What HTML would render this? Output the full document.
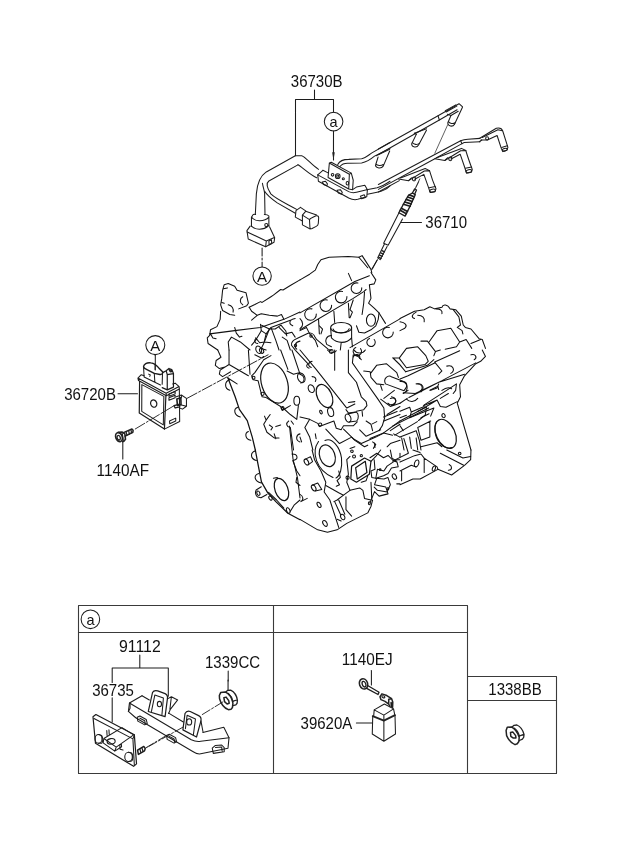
<!DOCTYPE html>
<html>
<head>
<meta charset="utf-8">
<title>Glow plug system</title>
<style>
html,body{margin:0;padding:0;background:#fff;}
body{width:620px;height:848px;overflow:hidden;font-family:"Liberation Sans",sans-serif;}
svg{display:block;position:absolute;left:0;top:0;filter:grayscale(1);}
svg text{font-family:"Liberation Sans",sans-serif;font-size:16.1px;fill:#111;}
.l,.l *{vector-effect:non-scaling-stroke;}
.t,.t *{vector-effect:non-scaling-stroke;}
.f,.f *{vector-effect:non-scaling-stroke;}
.l{fill:none;stroke:#1c1c1c;stroke-width:1.05;stroke-linecap:round;stroke-linejoin:round;}
.t{fill:none;stroke:#111;stroke-width:1.05;stroke-linecap:round;stroke-linejoin:round;}
.f{fill:#fff;stroke:#333;stroke-width:1;stroke-linejoin:round;}
.d{fill:none;stroke:#333;stroke-width:0.9;stroke-dasharray:7 2 2 2;}
.k{fill:#222;stroke:none;}
</style>
</head>
<body>
<svg width="620" height="848" viewBox="0 0 620 848">

<!-- ===== TABLE ===== -->
<g id="table" class="l" style="stroke:#3a3a3a;stroke-width:1.1">
<path d="M78.5 605.5H467.5V773.5H78.5Z"/>
<path d="M78.5 632.5H467.5"/>
<path d="M273.5 605.5V773.5"/>
<path d="M467.5 676.5H556.5V773.5H467.5"/>
<path d="M467.5 700.5H556.5"/>
</g>

<!-- ===== LABELS ===== -->
<g id="labels">
<text x="290.8" y="86.5" textLength="51.7" lengthAdjust="spacingAndGlyphs">36730B</text>
<text x="425.3" y="228.3" textLength="41.7" lengthAdjust="spacingAndGlyphs">36710</text>
<text x="64.2" y="400" textLength="51.7" lengthAdjust="spacingAndGlyphs">36720B</text>
<text x="96.6" y="475.5" textLength="52.5" lengthAdjust="spacingAndGlyphs">1140AF</text>
<text x="119" y="652" textLength="41.7" lengthAdjust="spacingAndGlyphs">91112</text>
<text x="92.2" y="695.8" textLength="41.7" lengthAdjust="spacingAndGlyphs">36735</text>
<text x="205" y="667.8" textLength="55.1" lengthAdjust="spacingAndGlyphs">1339CC</text>
<text x="341.8" y="664.5" textLength="50.8" lengthAdjust="spacingAndGlyphs">1140EJ</text>
<text x="300.6" y="729.3" textLength="51.7" lengthAdjust="spacingAndGlyphs">39620A</text>
<text x="488.3" y="694.6" textLength="53.4" lengthAdjust="spacingAndGlyphs">1338BB</text>
</g>

<!-- ===== LEADERS ===== -->
<g id="leaders" class="l">
<path d="M314.5 90V99.5M295.5 155.5V99.5H333.5V112"/>
<circle cx="333.6" cy="121.6" r="9.3"/>
<path d="M333.5 131V160"/>
<path d="M401 222.4H421.5"/>
<path d="M118 393.8H137.5"/>
<path d="M122.8 442V459"/>
<circle cx="155.3" cy="345.1" r="9.5"/>
<path d="M155.3 355.3V370"/>
<path d="M139.8 655V668M112.2 682.5V668H168.3V696.3M112.2 697.8V722"/>
<path d="M228.2 671V681"/>
<path d="M371.4 670.5V685"/>
<path d="M356.4 723H372"/>
<circle cx="90.4" cy="619.3" r="9.3"/>
<circle cx="262.1" cy="276.1" r="9.2"/>
<path d="M262.1 248V266.8" style="stroke-dasharray:8 2 2 2"/>
</g>
<text x="329.6" y="126.5" style="font-size:14.5px">a</text>
<text x="86.5" y="625" style="font-size:14.5px">a</text>
<text x="150.2" y="350.9" style="font-size:15px">A</text>
<text x="257.1" y="281.5" style="font-size:15px">A</text>

<!-- harness left: zoom [245,150,325,250] k=7.75 -->
<g class="l" transform="translate(245 150) scale(0.129032)">
<path d="M390 45L165 170C120 200 95 250 88 340L80 500"/>
<path d="M135 258C140 290 150 310 152 335L155 500"/>
<path d="M410 115L185 240C165 255 165 285 200 340C240 380 330 420 400 460"/>
<path d="M152 320C170 350 200 375 250 410L390 490"/>
<path d="M390 45L440 45C470 55 520 120 570 150"/>
<path d="M410 115C440 130 500 190 555 215"/>
<!-- small connector -->
<path d="M430 445L395 470L390 520L445 550M430 445L470 472"/>
<path d="M470 475L445 505L445 580L505 612M470 475L555 503"/>
<path d="M500 545C500 535 505 530 515 527L550 510C562 507 570 512 571 525L568 570C567 580 562 587 552 592L520 608C510 612 503 608 503 598Z"/>
<path d="M445 505L500 540"/>
<!-- main connector -->
<path d="M50 520C70 555 150 560 185 520M50 520L50 590M185 512L185 585M55 515C58 500 70 495 82 500M150 500C165 500 180 505 185 512"/>
<path d="M50 590C80 620 140 625 185 585"/>
<circle cx="165" cy="582" r="12"/>
<path d="M40 590L15 625L25 690L160 750L225 715L230 680L190 595"/>
<path d="M17 635L165 705L228 678M165 705L160 750"/>
<path d="M185 705L205 695L207 725L187 735Z"/>
</g>
<!-- bracket: zoom [310,140,390,220] k=7.75 -->
<g class="l" transform="translate(310 140) scale(0.129032)">
<path d="M182 0V110"/>
<path class="k" d="M172 95L192 95L182 158Z" style="fill:#222;stroke:none"/>
<!-- base -->
<path d="M100 235L60 270L65 320L300 450C330 465 350 465 370 460L440 440L445 385L425 350L360 365L330 385"/>
<path d="M100 235L140 255M60 270L300 400C320 410 340 410 360 405L440 385"/>
<!-- upright plate -->
<path d="M150 178L140 290L300 380L305 265ZM150 178L165 172L320 257L335 312L330 385L300 380M305 265L320 257"/>
<circle cx="175" cy="270" r="10"/><circle cx="215" cy="280" r="18"/><circle cx="215" cy="280" r="8"/><circle cx="258" cy="300" r="8"/><ellipse cx="290" cy="335" rx="10" ry="14"/>
<path d="M95 325L120 320L135 340L130 355L105 345Z"/>
<path d="M210 390L235 385L250 405L245 420L220 410Z"/>
<path d="M390 435L420 425L430 445L400 455Z"/>
<!-- tubes to right (upper) -->
<path d="M215 190C230 160 260 150 300 150L400 145C430 140 450 120 480 100L620 20"/>
<path d="M232 205C250 182 270 178 300 180L400 178C440 170 470 150 500 125L620 65"/>
<!-- lower tubes -->
<path d="M440 385L520 370C560 360 590 340 620 320"/>
<path d="M445 420L520 405C570 395 600 375 620 355"/>
</g>
<!-- harness right: zoom [380,90,480,190] k=6.2 -->
<g class="l" transform="translate(380 90) scale(0.16129)">
<!-- upper rail -->
<path d="M-10 366L360 160L490 85L512 105L462 212"/>
<path d="M-10 400L368 186L478 122"/>
<path d="M360 160L368 186M405 128L470 92M410 136L476 100"/>
<!-- conn U1 -->
<path d="M440 158L420 205C422 225 450 232 462 212"/>
<path d="M424 196C432 208 452 212 466 203"/>
<path d="M418 150L440 158L485 132"/>
<!-- conn U2 -->
<path d="M213 268L288 240M225 275L196 335C198 356 228 362 240 340L288 250"/>
<path d="M200 326C208 338 230 342 245 331"/>
<path d="M213 268L225 275"/>
<!-- conn U3 -->
<path d="M-24 408L60 368M-12 416L-28 468C-24 486 8 490 20 472L60 378M-26 458C-16 470 6 472 20 462"/>
<!-- thin wire -->
<path d="M420 215L340 392" style="stroke-width:0.7"/>
<!-- lower rail -->
<path d="M-10 586L500 315C512 310 530 306 545 305L620 300"/>
<path d="M-10 616L340 426L500 337L522 326L620 321"/>
<path d="M500 315L508 333"/>
<path d="M120 562L-10 632"/>
<!-- conn L1 -->
<path d="M340 426L402 437L500 377L532 375C545 420 560 460 572 492L566 510L536 516L526 482L497 398L440 428"/>
<path d="M402 437L420 420M352 420L505 362L532 375"/>
<ellipse cx="551" cy="503" rx="18" ry="9" transform="rotate(-10 551 503)"/>
<path d="M530 485L568 478"/>
<ellipse cx="436" cy="427" rx="10" ry="12"/>
<!-- conn L2 -->
<path d="M115 552L177 562L275 502L307 500C320 545 335 585 347 612L341 630L311 636L301 605L272 523L215 553"/><ellipse cx="326" cy="624" rx="18" ry="9" transform="rotate(-10 326 624)"/><path d="M305 606L343 598"/>
<path d="M177 562L195 545M127 545L280 487L307 500"/>
<ellipse cx="211" cy="552" rx="10" ry="12"/>
<path d="M240 570L212 625" style="stroke-width:0.7"/>
</g>
<!-- harness far right: zoom [410,110,510,210] k=6.2 -->
<g class="l" transform="translate(410 110) scale(0.16129)">
<path d="M430 177L535 113C555 108 570 115 575 130L607 232L600 250L575 258L566 238L540 158L480 186L440 186"/>
<path d="M430 197L445 186M448 170L545 122L572 128"/>
<ellipse cx="588" cy="246" rx="16" ry="8" transform="rotate(-12 588 246)"/>
<path d="M568 232L603 222"/>
<ellipse cx="478" cy="176" rx="9" ry="10"/>
</g>
<!-- glow plug: zoom [365,180,435,270] k=8.857 -->
<g class="l" transform="translate(365 180) scale(0.112903)">
<path d="M485 -10L450 65M105 712L65 790" style="stroke-width:0.8"/>
<path d="M300 292L165 560L205 577L332 345"/>
<path d="M172 566L112 690L135 705L196 588"/>
<path d="M150 625L172 637M140 645L162 657M130 665L152 677M121 683L143 695" style="stroke-width:1.3"/>
<path d="M300 290L340 215L385 135L420 115L445 130L400 230L355 320Z" style="stroke-width:1.4"/>
<path d="M312 268L366 298M322 250L376 278M340 215L400 232M352 195L408 212M365 172L418 190M378 150L428 168M392 132L436 148" style="stroke-width:1.7"/>
<path d="M420 115L440 78L456 88L440 126" style="stroke-width:1.3"/>
</g>
<!-- module: axis in zoom [115,355,215,455] k=6.2 -->
<g class="l" transform="translate(115 355) scale(0.16129)">
<path d="M365 315L120 462" style="stroke-width:0.9;stroke-dasharray:11 2 2 2"/>
</g>
<!-- module: zoom [130,360,200,420] k=8.857 -->
<g class="l" transform="translate(130 360) scale(0.112903)">
<!-- flange -->
<path d="M125 140L100 130L70 160L320 295L435 235L400 205L378 212M70 160L75 182L322 317L437 257L435 235M320 295L322 317"/>
<!-- front face -->
<path d="M85 188L82 470L305 612L318 315" style="stroke-width:1.2"/>
<path d="M105 218L104 455L295 575L300 322Z"/>
<ellipse cx="210" cy="386" rx="27" ry="33" transform="rotate(-20 210 386)" style="stroke-width:1.2"/>
<!-- right face -->
<path d="M437 257L440 545L305 612"/>
<path d="M345 300L400 280L400 300L345 322ZM345 335L400 312L400 335L345 357ZM350 540L405 515L405 540L352 565Z"/>
<!-- tab -->
<path d="M410 325L455 310L500 340L500 410L465 435L440 425M455 310L455 335M500 410L455 398"/>
<path d="M415 345L450 335L452 395L420 402Z" style="stroke-width:1.6"/>
<path d="M390 405L440 390L440 415L400 425Z" style="stroke-width:1.3"/>
<!-- big connector -->
<path d="M120 60C120 35 150 20 185 25C210 28 235 45 255 70L288 105C292 120 282 130 265 128L215 118L150 85C135 78 122 70 120 60Z" style="stroke-width:1.4"/>
<path d="M120 60L125 150L270 222M215 118L220 195M288 112L285 215M165 125L180 132L175 145"/>
<!-- small connector -->
<path d="M290 112L320 95L345 75L370 85L385 120L385 240L330 265L285 245M320 95L330 130L385 120M345 75L350 97L375 100M330 130L330 262" style="stroke-width:1.2"/>
<ellipse cx="362" cy="97" rx="7" ry="10"/>
<path d="M222 40L222 98" style="stroke-width:0.9;stroke-dasharray:5 2"/>
</g>
<!-- bolt: zoom [110,420,150,450] k=15.5 -->
<g class="l" transform="translate(110 420) scale(0.064516)" style="stroke:#222">
<path d="M200 200L340 140L358 160L355 190L235 250" style="stroke-width:1.5"/>
<path d="M250 185L262 235M290 168L300 218M325 152L335 200" style="stroke-width:1.2"/>
<path d="M130 190L185 185L230 215L240 300L215 330L195 335" style="stroke-width:1.6"/>
<ellipse cx="140" cy="265" rx="50" ry="72" transform="rotate(-20 140 265)" style="stroke-width:1.7"/>
<ellipse cx="135" cy="275" rx="24" ry="36" transform="rotate(-20 135 275)" style="stroke-width:1.3"/>
<path d="M190 215L205 320" style="stroke-width:1.3"/>
</g>
<!-- bracket 91112: zoom [120,680,250,770] k=4.769 -->
<g class="l" transform="translate(120 680) scale(0.209677)">
<path d="M105 75L45 110L40 150L75 180L345 340C360 350 370 355 385 352L515 325L520 275L495 225L395 250"/>
<path d="M105 75L140 95M232 158L302 200M45 110L340 285C355 292 365 295 385 292L520 275"/>
<!-- tab1 -->
<path d="M135 150L155 60C160 50 170 49 180 52L215 65C225 70 228 80 226 90L215 175Z" style="stroke-width:1.2"/>
<path d="M150 150L166 72L207 86L200 165"/>
<path d="M226 90L245 80L275 95L240 140L232 160M245 80L238 140"/>
<ellipse cx="188" cy="115" rx="10" ry="13"/>
<!-- tab2 -->
<path d="M300 238L310 160C315 150 325 147 335 150L375 170C385 175 388 185 386 195L365 272Z" style="stroke-width:1.2"/>
<path d="M386 195L396 248M312 232L320 168L360 186L350 262"/>
<ellipse cx="330" cy="200" rx="12" ry="15"/>
<!-- slots -->
<path d="M82 178L95 172L125 188L130 208L118 214L85 196ZM95 182L118 194L120 208"/>
<path d="M222 265L235 259L265 275L270 295L258 301L225 283ZM235 269L258 281L260 295"/>
<path d="M440 325L455 312L485 310L497 322L497 342L445 350ZM455 322L485 320L487 340"/>
<path d="M40 150L48 135L48 115"/>
<!-- axis -->
<path d="M490 105L392 165M300 225L128 322" style="stroke-width:0.9;stroke-dasharray:9 2 2 2"/>
<!-- nut 1339CC moved -->
</g>
<!-- 36735: zoom [85,700,175,770] k=6.889 -->
<g class="l" transform="translate(85 700) scale(0.145161)">
<path d="M55 115L75 100L340 240L355 440L335 457L72 298Z" style="stroke-width:1.2"/>
<path d="M62 128L330 268L340 450M340 240L330 268"/>
<path d="M130 265L255 190L335 240L215 325ZM130 265L125 295L205 352L215 325M205 352L252 322L250 300M150 210L152 245M165 205L167 238"/>
<ellipse cx="180" cy="285" rx="28" ry="19" transform="rotate(-8 180 285)"/>
<ellipse cx="93" cy="268" rx="24" ry="30"/>
<path d="M93 238L115 245C125 260 125 285 115 298L93 298"/>
<ellipse cx="300" cy="392" rx="26" ry="32"/>
<path d="M300 360L322 366C332 380 332 408 322 420L300 424"/>
<path d="M240 310L242 340L262 345"/>
<!-- screw -->
<path d="M362 345L405 320L415 335L410 350L368 375Z" style="stroke-width:1.5"/>
<path d="M378 338L385 362M392 330L400 355" style="stroke-width:1.2"/>
<path d="M418 330L560 245" style="stroke-width:0.9;stroke-dasharray:9 2 2 2"/>
</g>
<!-- relay: zoom [350,675,410,750] k=10.333 -->
<g class="l" transform="translate(350 675) scale(0.096774)">
<path d="M250 360L355 300L450 350L350 415ZM250 360L245 420M350 415L350 470M450 350L462 410"/>
<path d="M235 425L350 472L465 415" style="stroke-width:1.8;stroke:#222"/>
<path d="M235 425L230 610L350 685L470 610L465 415M350 472L350 685"/>
<!-- bracket -->
<path d="M310 225L330 195L380 212L430 245L442 280L440 335M310 225L320 255L362 272L400 300L412 325M400 300L400 250L430 245" style="stroke-width:1.5;stroke:#222"/>
<ellipse cx="345" cy="225" rx="16" ry="10" transform="rotate(25 345 225)"/>
<path d="M425 285L428 330" style="stroke-width:1.6"/>
<!-- bolt -->
<ellipse cx="140" cy="92" rx="42" ry="54" transform="rotate(-20 140 92)" style="stroke-width:1.6;stroke:#222"/>
<ellipse cx="145" cy="95" rx="18" ry="30" transform="rotate(-20 145 95)" style="stroke-width:1.3"/>
<path d="M182 108L300 178M172 138L290 202M300 178L290 202" style="stroke-width:1.3"/>
</g>
<!-- nut 1338BB: zoom [495,715,535,755] k=15.5 -->
<g class="l" transform="translate(495 715) scale(0.064516)" style="stroke:#222">
<path d="M190 190L255 185C300 210 350 270 375 345L370 410L345 445L310 460C260 440 210 390 180 320L172 240Z" style="stroke-width:1.5"/>
<path d="M240 270L275 262L320 320L325 355L285 358L245 330Z" style="stroke-width:1.5"/>
<path d="M265 185L295 160L340 155C390 175 430 230 450 300L445 345L425 375L378 395M300 205C330 225 365 280 380 330M395 318L445 300" style="stroke-width:1.3"/>
</g>
<!-- ENGINE -->
<!-- E11: zoom [200,250,300,350] k=6.2 -->
<g class="t" transform="translate(200 250) scale(0.16129)">
<path d="M240 365L290 345L300 330L285 265L230 250L215 225L175 208L150 215L140 250L135 300L128 340L140 375L185 400L215 405"/>
<path d="M265 290C245 300 245 330 265 340M175 340C200 345 210 365 205 385M145 240L170 235M135 325L150 330"/>
<path d="M305 355L340 338L375 320L385 325L440 290L455 280L500 245L515 248L560 220L620 185"/>
<path d="M305 355L320 380L355 405L380 395L430 405L480 410L505 400L520 430M355 405L320 435"/>
<path d="M128 380L125 430L105 475L65 495L60 530L45 545L50 580L110 620M65 520L80 545L100 550"/>
<path d="M60 520L215 500L375 480L520 430L620 385"/>
<path d="M215 480L225 515L245 540L260 535"/>
<path d="M375 460L380 500L410 520L440 480L560 435M440 480L470 560L490 620"/>
<path d="M380 500L345 560L320 590M345 545L370 575L400 570L440 575M410 520L395 580L380 610L410 620"/>
<path d="M180 620L175 570L195 540L250 570L310 620"/>
<path d="M590 425C555 430 545 455 575 470M620 565C590 570 580 600 600 615"/>
<path d="M490 480L530 520L570 510L590 540M510 540L540 560L560 620"/>
</g>
<!-- E12: zoom [300,250,400,350] k=6.2 -->
<g class="t" transform="translate(300 250) scale(0.16129)">
<path d="M0 185L60 150L95 125L110 90L130 60L180 45L300 40L365 45L385 35L440 120L445 140"/>
<path d="M365 45L420 110M445 120L480 60" />
<path d="M0 390L340 195L430 160M0 495L50 465L330 300L395 258L410 245"/>
<path d="M383 234A33 33 0 1 1 359 205M291 289A36 36 0 1 1 264 257M196 342A36 36 0 1 1 169 310M101 397A36 36 0 1 1 74 365M0 425C22 445 22 475 0 488"/>
<path d="M440 140L470 185L460 210L430 215L440 300L425 330L460 360L490 390L485 430L470 470L440 495L400 515L365 510L350 470"/>
<ellipse cx="440" cy="435" rx="28" ry="38"/>
<path d="M300 145L320 190M400 260L395 330L385 400M300 330L305 420M210 380L215 450M115 430L120 520M330 310L310 370L325 385L310 420"/>
<ellipse cx="255" cy="482" rx="65" ry="32"/>
<path d="M205 490C215 520 290 522 305 488M190 485L195 545C230 582 290 582 320 545L320 482"/>
<path d="M195 530C165 530 150 560 165 585L195 600M255 578L250 620M320 545L325 600"/>
<path d="M310 605L620 427"/>
<path d="M578 509A33 33 0 1 1 554 480"/>
<path d="M490 390L530 455M0 500L40 480L60 520L95 560L110 600M120 470L140 490L130 520"/>
</g>
<!-- E13: zoom [400,250,500,350] k=6.2 -->
<g class="t" transform="translate(400 250) scale(0.16129)">
<path d="M0 425L90 380L150 370L185 352L215 365L260 355C265 335 295 335 310 365L345 370L380 410L392 465L405 480L440 490L490 550L510 555L530 610"/>
<path d="M100 385C70 400 70 420 90 425M110 405C140 405 155 420 150 445M225 365C250 365 265 375 260 395M0 445C30 450 50 465 30 485L0 500"/>
<path d="M330 370L365 415L375 465L355 480L385 500L390 520"/>
<path d="M180 570L230 500L315 485L370 570L350 600L280 615M370 570L410 555L445 610M440 580L500 555"/>
</g>
<!-- E21: zoom [200,350,300,450] k=6.2 -->
<g class="t" transform="translate(200 350) scale(0.16129)">
<path d="M-79 299L422 30" style="stroke-width:0.9;stroke-dasharray:11 2 2 2"/>
<path d="M110 0L130 45L100 65L95 95L120 115L155 105M180 0L180 90L125 125L120 150L140 165L190 135M180 90L300 160M300 0L310 150"/>
<path d="M172 170L218 290L244 368L293 438L324 540L343 620" style="stroke-width:1.25"/>
<path d="M185 185C150 195 150 240 185 250M235 355C205 365 210 405 250 415M300 505C275 515 280 555 315 560M175 175L230 210"/>
<ellipse cx="462" cy="205" rx="80" ry="128" transform="rotate(-18 462 205)" style="stroke-width:1.2"/>
<path d="M395 60L340 140L320 160L330 185L360 190L375 250L385 290L410 295L450 320L500 350L510 375L535 360L560 345M395 60L440 35"/>
<circle cx="332" cy="172" r="9"/><circle cx="388" cy="272" r="10"/><circle cx="512" cy="360" r="9"/>
<path d="M540 130L580 150L620 140M500 0L545 120M570 0L620 150M340 30L380 50L395 40"/>
<ellipse cx="600" cy="315" rx="18" ry="28"/>
<path d="M510 355L560 400L600 430L610 345M550 440C530 455 535 475 560 480L580 620M565 440L580 460"/>
<path d="M400 410L410 435L435 400M410 435L395 460L415 510L460 545L490 545M430 465L450 480L440 495M470 475L500 465M460 520L470 550"/>
<path d="M620 520C595 525 590 560 620 570"/>
</g>
<!-- E22: zoom [300,350,400,450] k=6.2 -->
<g class="t" transform="translate(300 350) scale(0.16129)">
<path d="M215 0L215 125M300 0L300 140L350 200L380 290L410 320L415 345L395 370L350 380"/>
<path d="M0 0L100 120L290 360L340 335M285 370L300 390L345 385M300 325L340 320"/>
<ellipse cx="152" cy="285" rx="45" ry="76" transform="rotate(-25 152 285)" style="stroke-width:1.2"/>
<ellipse cx="70" cy="240" rx="18" ry="25" transform="rotate(-25 70 240)"/><ellipse cx="190" cy="385" rx="18" ry="28" transform="rotate(-15 190 385)"/><ellipse cx="130" cy="385" rx="7" ry="12" transform="rotate(-25 130 385)"/>
<path d="M75 165C95 165 105 180 95 195M75 70C50 75 45 100 70 108M0 150C30 160 35 195 5 205M170 0C185 20 215 20 225 5"/>
<ellipse cx="298" cy="422" rx="17" ry="26" transform="rotate(-20 298 422)"/>
<path d="M298 396L350 385C365 395 365 425 352 440L305 447M385 380L388 410"/>
<path d="M330 30L325 80L360 130L480 300L520 360L525 420L510 470L490 500M330 30L360 40L380 60M335 0C350 25 390 25 405 0"/>

<path d="M520 300L585 250M560 300C590 290 605 315 585 335C570 345 555 340 545 330M500 305L560 350L620 330M540 400L620 350M520 440L620 400"/>
<path d="M0 415L60 430L110 455L120 475L210 440L225 485L255 495L270 470L330 470L355 445"/>
<circle cx="125" cy="462" r="10"/>
<path d="M60 430L30 480L60 540L80 620M160 490L245 580L320 540M270 490L330 550L380 580L470 540L510 520L620 440"/>
<path d="M370 495L410 535L500 495M410 440L440 460L450 500M320 540L340 560L400 600L420 590"/>
<path d="M310 610L340 600M450 570L470 585L455 610M540 600L560 580L620 560M560 500L620 460M580 520L620 540M95 520L100 550M0 540L10 570"/>
</g>
<!-- E23: zoom [400,350,500,450] k=6.2 -->
<g class="t" transform="translate(400 350) scale(0.16129)">
<path d="M510 0L530 40L500 70L470 85L400 160L370 215L375 290L355 330L440 620"/>
<path d="M215 75L370 5M215 75L260 130L240 150"/>
<path d="M0 180L50 160L215 80M20 265L95 270L260 190L470 80M55 295L240 200L400 150M0 330L45 300M150 340L320 230L350 210L345 250L330 270"/>
<path d="M290 100C330 90 345 125 315 145M100 210C135 205 150 235 125 255M0 195C40 190 55 230 35 260M440 30C470 20 480 50 460 60M40 305C60 325 90 325 110 300"/>
<path d="M0 440L130 370L230 310L250 350L285 355L355 320M230 310L145 345M260 250C280 235 305 230 320 240M185 250L235 225L240 245M250 300L300 270"/>
<path d="M0 380L60 355L70 385L150 350M70 385L60 420L120 395L210 360L190 410M130 420L180 395M0 470L20 500M0 420L40 405"/>
<ellipse cx="283" cy="520" rx="58" ry="96" transform="rotate(-25 283 520)" style="stroke-width:1.2"/>
<path d="M228 445C205 480 215 540 250 580C275 605 300 612 320 605"/>
<ellipse cx="270" cy="407" rx="10" ry="13" transform="rotate(-20 270 407)"/>
<path d="M185 440L185 540L130 560L110 480L190 440M0 540L100 500L120 560L130 620M10 545L25 620M60 540L70 610M100 545L110 620M130 600L230 575L260 600"/>
</g>
<!-- E31: zoom [200,450,300,550] k=6.2 -->
<g class="t" transform="translate(200 450) scale(0.16129)">
<path d="M343 0L358 80L381 198L420 266L470 320L545 392L620 432" style="stroke-width:1.25"/><path d="M425 262L475 310L520 360"/>
<path d="M345 5C310 15 310 55 350 65M365 145C330 155 335 195 380 205"/>
<path d="M380 228L348 248C340 262 345 285 358 292L378 296L415 276"/>
<ellipse cx="362" cy="268" rx="9" ry="14" transform="rotate(-20 362 268)"/>
<ellipse cx="505" cy="245" rx="40" ry="72" transform="rotate(-20 505 245)" style="stroke-width:1.2"/>
<ellipse cx="437" cy="298" rx="9" ry="14" transform="rotate(-30 437 298)"/><ellipse cx="547" cy="375" rx="10" ry="18" transform="rotate(-20 547 375)"/>
<path d="M570 25C610 25 612 60 575 65L600 130L620 160M600 170L595 200L620 220M620 310L585 340L560 380M455 175L480 170"/>
</g>
<!-- E32: zoom [300,450,400,550] k=6.2 -->
<g class="t" transform="translate(300 450) scale(0.16129)">
<path d="M0 430L110 495L170 510L230 495L290 455L420 390L440 350L450 310"/>

<path d="M75 0L90 60L130 130L160 200L150 260L185 310L240 480M240 130L250 170L230 190L245 215L225 225"/>
<ellipse cx="40" cy="75" rx="12" ry="20" transform="rotate(-30 40 75)"/><path d="M30 58L65 42L78 72L50 92"/>
<ellipse cx="85" cy="235" rx="12" ry="20" transform="rotate(-30 85 235)"/><path d="M75 218L110 205L135 245L95 254"/>
<path d="M0 275C20 285 25 310 5 320L45 300"/>
<ellipse cx="118" cy="340" rx="10" ry="18" transform="rotate(-30 118 340)"/><ellipse cx="155" cy="455" rx="12" ry="20" transform="rotate(-30 155 455)"/>
<ellipse cx="265" cy="415" rx="12" ry="18" transform="rotate(-30 265 415)"/><path d="M215 320L252 402M240 310L278 398M230 430L255 440"/>
<path d="M320 100L400 50L440 70L430 150L350 200L315 180Z" style="stroke-width:1.2"/><path d="M345 110L405 70L415 140L355 180Z" style="stroke-width:1.2"/>
<circle cx="335" cy="40" r="9"/><circle cx="295" cy="172" r="10"/><circle cx="380" cy="35" r="7"/><circle cx="322" cy="8" r="8"/>
<path d="M290 60L300 150L290 200L310 250L270 280L230 310L210 320M160 220L240 265L270 280M285 290L285 370L320 410M310 40L290 60"/>
<path d="M310 250L370 235L390 250L400 300L440 310M440 200L445 300M420 160L410 190L380 200"/>
<path d="M440 70L470 40L500 0M460 60L465 120L440 130L445 170L470 175L480 120L520 130L540 100L600 60L620 60M560 0L570 50L600 70"/>
<path d="M470 175L520 180L545 170L560 215L540 260L480 250L460 230"/>
<ellipse cx="585" cy="165" rx="12" ry="18" transform="rotate(-30 585 165)"/><path d="M600 210L620 210"/><circle cx="545" cy="240" r="6"/><circle cx="497" cy="122" r="5"/><ellipse cx="430" cy="330" rx="6" ry="9"/>
</g>
<!-- E33: zoom [400,450,500,550] k=6.2 -->
<g class="t" transform="translate(400 450) scale(0.16129)">
<path d="M440 0L438 60L400 95L320 155L235 120L125 180L80 180L0 215"/>
<path d="M0 75L90 35L130 25L150 50L150 140M0 130L70 95L100 105M150 50L230 105L235 120M250 20L395 95M290 0L390 50L438 40"/>
<ellipse cx="103" cy="83" rx="13" ry="22" transform="rotate(20 103 83)"/><ellipse cx="210" cy="115" rx="9" ry="17" transform="rotate(20 210 115)"/><circle cx="370" cy="22" r="8"/>
<path d="M305 90C325 100 325 125 300 125M0 20L0 45M80 0L125 15M10 130L10 190"/>
</g>
<!-- ER1: zoom [350,300,450,400] k=6.2 -->
<g class="t" transform="translate(350 300) scale(0.16129)">
<path d="M65 301A26 26 0 1 1 36 294M150 245A26 26 0 1 1 121 238M21 353A20 20 0 1 1 60 363"/>
<path d="M305 360L350 300L420 290L470 345L485 380L465 400L350 420L305 360M265 358L305 360M265 358C290 380 320 410 345 445"/>
<path d="M130 452L165 405L225 395L290 450L300 480M85 440L125 445L130 480L165 520L210 525"/>
<path d="M225 480C235 470 250 470 260 478L340 508C355 515 355 535 345 548L335 562L220 520C212 505 215 490 225 480Z"/>
<path d="M440 255L480 255L530 320L560 310M530 320L520 345"/>
<path d="M345 445L480 405L520 370M330 580L360 560"/>
<path d="M420 520C450 515 465 545 440 570M190 530L200 560M500 560L540 545L550 520"/>
</g>
<!-- crank seal (abs coords) -->
<g class="t">
<ellipse cx="327.3" cy="455.8" rx="7.6" ry="11.2" transform="rotate(-20 327.3 455.8)" style="stroke-width:1.2"/>
<path d="M318.5 441.5C311 452 316 470 333 477.5M325 440.5C332 437 340 447 341.5 458C342.5 468 340 476 336 478"/>
<path d="M289.5 426L293 459L297.5 478L300 498"/>
</g>
<!-- ER2: zoom [370,390,510,530] k=4.4286 -->
<g class="t" transform="translate(370 390) scale(0.225806)">
<path d="M0 300L30 280L60 300L80 290L100 310L120 320L125 340L95 345L80 370L60 380L30 390L20 420L70 430L80 460L40 470L20 450L0 500"/>
<path d="M150 215L170 280L100 315M60 120L120 95M100 160L200 110L260 80M110 200L210 140M0 215L60 190L100 200M20 235L22 255"/>
<path d="M95 30C120 35 120 60 95 65M10 150L30 140M210 95L250 75L245 110L215 135"/>
</g>
<!-- ER3: zoom [250,300,370,420] k=5.1667 -->
<g class="t" transform="translate(250 300) scale(0.193548)">
<path d="M215 235C210 220 225 205 240 200L300 172C315 168 330 175 335 190L345 205L405 255L420 262M215 235L235 260L300 330"/>
<circle cx="235" cy="235" r="6"/><circle cx="315" cy="186" r="6"/><circle cx="420" cy="266" r="10"/>
<path d="M100 150L130 150L160 130L185 160L190 185"/>
<ellipse cx="45" cy="257" rx="14" ry="20" transform="rotate(-25 45 257)"/><ellipse cx="60" cy="262" rx="10" ry="14" transform="rotate(-25 60 262)"/>
<ellipse cx="265" cy="402" rx="18" ry="26" transform="rotate(-25 265 402)"/>
<path d="M300 330C290 335 290 350 305 352M60 130L100 150L75 215M30 200C20 210 25 225 40 225"/>
</g>
<!-- nut 1339CC: zoom [210,680,250,715] k=15.5 -->
<g class="l" transform="translate(210 680) scale(0.064516)" style="stroke:#222">
<path d="M165 195L235 185C290 210 340 280 355 360L348 425L325 455L285 460C225 435 170 370 148 290L145 240Z" style="stroke-width:1.5"/>
<path d="M215 275L250 265L290 320L298 360L265 372L225 335Z" style="stroke-width:1.5"/>
<path d="M245 185L275 160L320 158C375 185 415 245 425 315L420 360L400 385L355 398M285 210C315 235 345 290 355 335M370 325L420 310" style="stroke-width:1.3"/>
<path d="M280 0L280 160" style="stroke-width:1.1"/>
</g>
<!--PARTS-->

</svg>
</body>
</html>
